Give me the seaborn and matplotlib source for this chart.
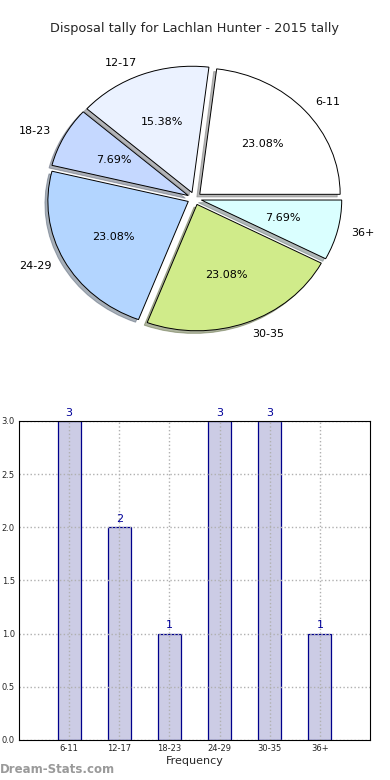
import matplotlib
matplotlib.use("Agg")
import matplotlib.pyplot as plt
import seaborn as sns
import pandas as pd

categories = ["6-11", "12-17", "18-23", "24-29", "30-35", "36+"]
counts = [3, 2, 1, 3, 3, 1]
slice_colors = ["#ffffff", "#ebf2ff", "#c5d8ff", "#b3d5ff", "#d0eb8a", "#daffff"]
title = "Disposal tally for Lachlan Hunter - 2015 tally"
yticks = [0.0, 0.5, 1.0, 1.5, 2.0, 2.5, 3.0]

sns.set_theme(style="white")
plt.rcParams["font.family"] = ["DejaVu Sans"]

fig = plt.figure(figsize=(3.9, 7.8), dpi=100)

# Pie
axp = fig.add_axes([0.0487, 0.543, 0.9, 0.405])
explode = [0.05] * len(counts)
wedges, texts, autotexts = axp.pie(
    counts, labels=categories, colors=slice_colors, explode=explode,
    autopct="%1.2f%%", shadow=dict(ox=-0.015, oy=-0.015, shade=0.55),
    startangle=0,
    wedgeprops=dict(edgecolor="black", linewidth=0.7),
    textprops=dict(fontsize=8, color="black"))
axp.set_aspect("auto")
axp.set_xlim(-1.25, 1.25)
axp.set_ylim(-1.25, 1.25)
axp.set_title(title, fontsize=9.3, pad=6)

# Bars
axb = fig.add_axes([0.0487, 0.0513, 0.9, 0.409])
df = pd.DataFrame({"category": categories, "count": counts})
sns.barplot(data=df, x="category", y="count", ax=axb, width=0.46,
            color="#ccccE5", saturation=1, edgecolor="#00008b", linewidth=0.9)
for p in axb.patches:
    p.set_facecolor("#ccccE5")
axb.set_xlim(-1, 6)
axb.set_ylim(0, 3)
axb.set_yticks(yticks)
axb.set_yticklabels([f"{v:.1f}" for v in yticks])
axb.tick_params(axis="both", labelsize=6, length=3, direction="in", pad=3)
axb.set_xlabel("Frequency", fontsize=8, labelpad=2)
axb.set_ylabel("")
axb.grid(True, linestyle=":", color="#b0b0b0", linewidth=1)
axb.set_axisbelow(False)
for s in axb.spines.values():
    s.set_color("black")
    s.set_linewidth(0.8)
    s.set_zorder(5)
for i, c in enumerate(counts):
    axb.text(i, c + 0.03, str(c), ha="center", va="bottom", fontsize=8, color="#000099")

fig.text(0.0, 0.005, "Dream-Stats.com", fontsize=8.5, color="#9a9a9a", ha="left", va="bottom", fontweight="bold")

fig.savefig("out.png", dpi=100)
